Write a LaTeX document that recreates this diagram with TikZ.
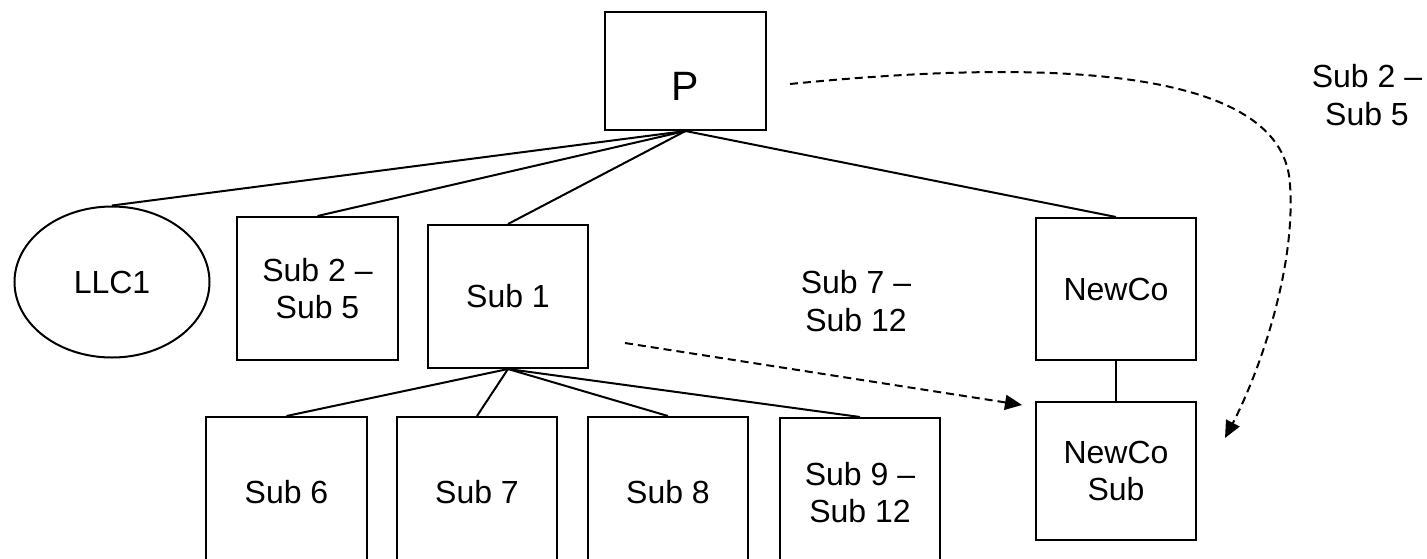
\documentclass[tikz,border=0pt]{standalone}
\usepackage{fontspec}
\setmainfont{Liberation Sans}
\usetikzlibrary{shapes.geometric,arrows.meta}
\begin{document}
\begin{tikzpicture}[x=1pt,y=-1pt,
  box/.style={draw,line width=2pt,rectangle,align=center,font=\fontsize{32}{37}\selectfont,inner sep=0pt},
  oval/.style={draw,line width=2pt,ellipse,align=center,font=\fontsize{32}{37}\selectfont,inner sep=0pt},
  link/.style={line width=2pt},
  thick link/.style={line width=2.8pt},
  dlink/.style={line width=2pt,dash pattern=on 8pt off 5pt,-{Triangle[length=17pt,width=15pt]}},
  lbl/.style={align=center,font=\fontsize{32}{38}\selectfont,inner sep=0pt}]
\useasboundingbox (0,0) rectangle (1427,558);
\clip (0,0) rectangle (1427,558);
\node[box,minimum width=161pt,minimum height=118pt,text height=88pt,text depth=30pt,font=\fontsize{41}{44}\selectfont] (P) at (685.5,71) {P};
\node[oval,minimum width=195pt,minimum height=151pt] (LLC) at (112,282) {LLC1};
\node[box,minimum width=161pt,minimum height=143pt] (S25) at (317.5,288.5) {Sub 2 --\\Sub 5};
\node[box,minimum width=160pt,minimum height=143pt] (S1) at (508,296.5) {Sub 1};
\node[box,minimum width=160pt,minimum height=142pt] (NC) at (1116,289) {NewCo};
\node[box,minimum width=160pt,minimum height=138pt] (NCS) at (1116,471) {NewCo\\Sub};
\node[box,minimum width=161pt,minimum height=150pt] (S6) at (286.5,492) {Sub 6};
\node[box,minimum width=160pt,minimum height=150pt] (S7) at (477,492) {Sub 7};
\node[box,minimum width=160pt,minimum height=150pt] (S8) at (668,492) {Sub 8};
\node[box,minimum width=160pt,minimum height=150pt] (S9) at (860,493) {Sub 9 --\\Sub 12};
\node[lbl] (L712) at (856,301) {Sub 7 --\\Sub 12};
\node[lbl] (L25) at (1367,95) {Sub 2 --\\Sub 5};
\draw[link] (P.south) -- (LLC.north);
\draw[link] (P.south) -- (S25.north);
\draw[link] (P.south) -- (S1.north);
\draw[link] (P.south) -- (NC.north);
\draw[link] (S1.south) -- (S6.north);
\draw[link] (S1.south) -- (S7.north);
\draw[link] (S1.south) -- (S8.north);
\draw[link] (S1.south) -- (S9.north);
\draw[thick link] (NC.south) -- (NCS.north);
\coordinate (d1) at (625,343);
\coordinate (d2) at (1022,405);
\coordinate (c1) at (790,84);
\coordinate (cm) at (1290,185);
\coordinate (c2) at (1225,438);
\draw[dlink] (d1) -- (d2);
\draw[dlink] (c1) .. controls (1080,55) and (1285,75) .. (cm) .. controls (1296,270) and (1258,375) .. (c2);
\end{tikzpicture}
\end{document}
